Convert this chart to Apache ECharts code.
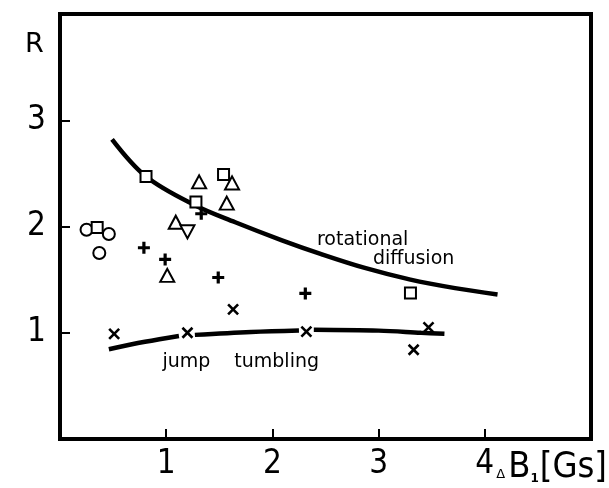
<!DOCTYPE html>
<html>
<head>
<meta charset="utf-8">
<script src="https://cdn.jsdelivr.net/npm/echarts@6/dist/echarts.min.js"></script>
<style>
  html, body { margin: 0; padding: 0; background: #fff; }
  #chart { width: 609px; height: 488px; }
</style>
</head>
<body>
<div id="chart"></div>
<script>
// measured points, [dB1 (Gs), R]
const circles = [[0.25, 1.97], [0.46, 1.93], [0.37, 1.75]];
const squares = [[0.35, 1.99], [0.81, 2.47], [1.28, 2.23], [1.54, 2.49], [3.30, 1.375]];
const trianglesUp = [[1.31, 2.42], [1.62, 2.41], [1.57, 2.22], [1.09, 2.04], [1.01, 1.54]];
const trianglesDown = [[1.20, 1.95]];
const pluses = [[0.79, 1.80], [0.99, 1.69], [1.49, 1.52], [2.31, 1.37], [1.33, 2.12]];
const crosses = [[0.51, 0.99], [1.20, 1.00], [1.63, 1.22], [2.32, 1.01], [3.47, 1.05], [3.33, 0.84]];

// hand drawn curves
const rotationalCurve = [[0.49, 2.82], [0.81, 2.47], [1.27, 2.20], [1.65, 2.04], [2.09, 1.87],
  [2.46, 1.74], [2.87, 1.61], [3.30, 1.50], [3.72, 1.42], [4.12, 1.36]];
const jumpCurve = [[0.46, 0.845], [0.8, 0.915], [1.12, 0.97], '-',
  [1.27, 0.98], [1.8, 1.008], [2.25, 1.022], '-',
  [2.39, 1.028], [3.0, 1.02], [3.4, 1.0], [3.62, 0.99]];

const curveNotes = [
  { value: [2.85, 1.87], text: 'rotational' },
  { value: [3.33, 1.69], text: 'diffusion' },
  { value: [1.19, 0.725], text: 'jump' },
  { value: [2.04, 0.725], text: 'tumbling' }
];

const xTicks = [1, 2, 3, 4];
const yTicks = [1, 2, 3];

const chart = echarts.init(document.getElementById('chart'));
const narrow = "'Liberation Sans Narrow', 'DejaVu Sans Condensed', sans-serif";

function pointSeries(name, data, symbol, size, extra) {
  return Object.assign({
    name: name,
    type: 'scatter',
    data: data,
    symbol: symbol,
    symbolSize: size,
    itemStyle: { color: '#fff', borderColor: '#000', borderWidth: 2, opacity: 1 },
    z: 5
  }, extra || {});
}

const option = {
  backgroundColor: '#fff',
  animation: false,
  title: {
    text: 'R',
    left: 20,
    top: 26,
    textStyle: { fontFamily: "'DejaVu Sans', sans-serif", fontSize: 27, fontWeight: 'normal', color: '#000' }
  },
  grid: {
    left: 60, right: 18, top: 14, bottom: 49,
    show: true, borderColor: '#000', borderWidth: 4
  },
  xAxis: {
    type: 'value', min: 0, max: 5, interval: 1,
    axisLine: { show: false },
    splitLine: { show: false },
    axisTick: { inside: true, length: 10, lineStyle: { color: '#000', width: 2 } },
    axisLabel: {
      margin: 9,
      fontFamily: narrow, fontSize: 33, color: '#000',
      formatter: v => xTicks.indexOf(v) >= 0 ? String(v) : ''
    }
  },
  yAxis: {
    type: 'value', min: 0, max: 4, interval: 1,
    axisLine: { show: false },
    splitLine: { show: false },
    axisTick: { inside: true, length: 10, lineStyle: { color: '#000', width: 2 } },
    axisLabel: {
      margin: 14,
      fontFamily: narrow, fontSize: 33, color: '#000',
      formatter: v => yTicks.indexOf(v) >= 0 ? String(v) : ''
    }
  },
  graphic: [{
    type: 'text',
    right: 2,
    bottom: 2,
    style: {
      text: '{d|Δ}{b|B}{s|1}{b|[Gs]}',
      rich: {
        d: { fontFamily: "'DejaVu Sans', sans-serif", fontSize: 13, fill: '#000', padding: [14, 3, 0, 0] },
        b: { fontFamily: narrow, fontSize: 36, fill: '#000' },
        s: { fontFamily: "'DejaVu Sans', sans-serif", fontSize: 12, fontWeight: 'bold', fill: '#000', padding: [22, 1, 0, 0] }
      }
    }
  }],
  series: [
    {
      name: 'rotational diffusion', type: 'line', data: rotationalCurve,
      smooth: 0.35, showSymbol: false,
      lineStyle: { color: '#000', width: 4.5 }, z: 3
    },
    {
      name: 'jump tumbling', type: 'line', data: jumpCurve,
      smooth: 0.35, showSymbol: false, connectNulls: false,
      lineStyle: { color: '#000', width: 4.5 }, z: 3
    },
    pointSeries('circles', circles, 'circle', 12),
    pointSeries('squares', squares, 'rect', 11),
    pointSeries('triangles up', trianglesUp, 'triangle', [14, 13]),
    pointSeries('triangles down', trianglesDown, 'triangle', [14, 13], { symbolRotate: 180 }),
    pointSeries('pluses', pluses, 'path://M-1.6,-6 L1.6,-6 L1.6,-1.6 L6,-1.6 L6,1.6 L1.6,1.6 L1.6,6 L-1.6,6 L-1.6,1.6 L-6,1.6 L-6,-1.6 L-1.6,-1.6 Z', 12,
      { itemStyle: { color: '#000', borderWidth: 0, opacity: 1 } }),
    pointSeries('crosses', crosses, 'path://M-4,-4 L4,4 M4,-4 L-4,4', 10,
      { itemStyle: { color: 'none', borderColor: '#000', borderWidth: 2.6, opacity: 1 } }),
    {
      name: 'notes', type: 'scatter', symbolSize: 0, silent: true,
      itemStyle: { opacity: 1 },
      data: curveNotes.map(n => ({ value: n.value, name: n.text })),
      label: {
        show: true, position: 'inside', formatter: p => p.name,
        fontFamily: "'DejaVu Sans', sans-serif", fontSize: 19, color: '#000'
      }
    }
  ]
};

chart.setOption(option);
</script>
</body>
</html>
